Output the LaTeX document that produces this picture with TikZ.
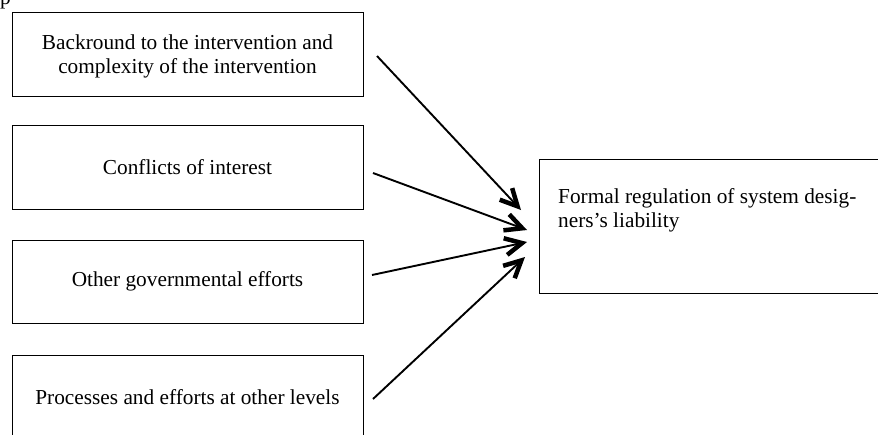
\documentclass[tikz,border=0pt]{standalone}
\usepackage{fontspec}
\setmainfont{Liberation Serif}
\usetikzlibrary{arrows.meta}
\begin{document}
\begin{tikzpicture}[x=1pt,y=-1pt,
  box/.style={draw, line width=1pt, inner sep=0pt, minimum width=351pt, minimum height=84pt,
    font=\fontsize{21.3}{24}\selectfont, align=center},
  plain/.style={inner sep=0pt, font=\fontsize{21.3}{24}\selectfont},
  arr/.style={line width=1.9pt, -{Straight Barb[length=17pt,width=17pt,line width=4.5pt 0]}}]
\useasboundingbox (0,0) rectangle (878,434);
\clip (0,0) rectangle (878,434);
\node[plain, anchor=base west] (p) at (0,4) {p};
\node[box] (b1) at (187.5,54) {};
\node[plain, align=center] (b1t) at (187.5,56) {Backround to the intervention and\\complexity of the intervention};
\node[box] (b2) at (187.5,167) {Conflicts of interest};
\node[box, minimum height=83pt] (b3) at (187.5,281.5) {Other governmental efforts};
\node[box] (b4) at (187.5,397) {Processes and efforts at other levels};
\node[draw, line width=1pt, minimum width=361pt, minimum height=134pt] (r) at (719.5,226) {};
\node[plain, anchor=base west, align=left] (rt) at (558,227) {Formal regulation of system desig-\\ners’s liability};
\coordinate (s1) at (377,56);
\coordinate (s2) at (373,173);
\coordinate (s3) at (372,275);
\coordinate (s4) at (373,399);
\coordinate (t1) at (521,210);
\coordinate (t2) at (527,230);
\coordinate (t3) at (527,242);
\coordinate (t4) at (525,257);
\draw[arr] (s1) -- (t1);
\draw[arr] (s2) -- (t2);
\draw[arr] (s3) -- (t3);
\draw[arr] (s4) -- (t4);
\end{tikzpicture}
\end{document}
